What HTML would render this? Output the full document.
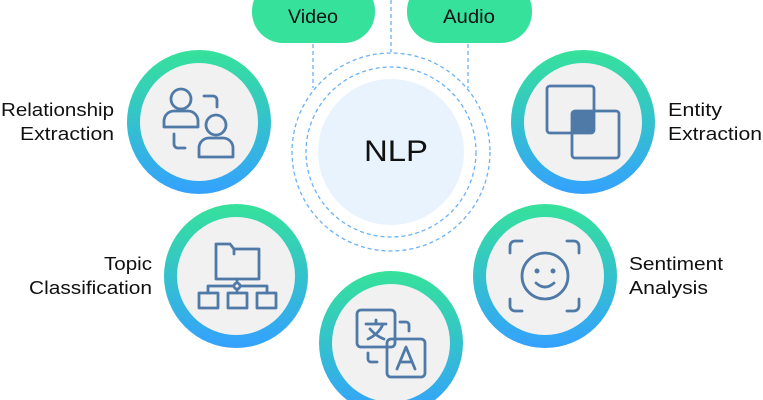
<!DOCTYPE html>
<html><head><meta charset="utf-8"><style>
html,body{margin:0;padding:0;background:#fff;}
svg{display:block;}
text{font-family:"Liberation Sans",sans-serif;}
</style></head><body>
<svg width="763" height="400" viewBox="0 0 763 400" xmlns="http://www.w3.org/2000/svg">
<defs>
<linearGradient id="g" x1="0" y1="0" x2="0" y2="1">
<stop offset="0" stop-color="#35e29a"/><stop offset="1" stop-color="#34a1fe"/>
</linearGradient>
</defs>
<rect x="252" y="-20" width="123" height="63" rx="31" fill="#36e19c"/>
<rect x="407" y="-20" width="125" height="63" rx="31" fill="#36e19c"/>
<text x="313" y="23" font-size="19" text-anchor="middle" fill="#111" textLength="50" lengthAdjust="spacingAndGlyphs">Video</text>
<text x="469" y="23" font-size="19" text-anchor="middle" fill="#111" textLength="52" lengthAdjust="spacingAndGlyphs">Audio</text>
<g stroke="#6ab2f5" stroke-width="1.3" stroke-dasharray="4,3" fill="none">
<line x1="313" y1="44" x2="313" y2="88"/>
<line x1="468" y1="44" x2="468" y2="88"/>
<line x1="391" y1="0" x2="391" y2="52"/>
<circle cx="391" cy="152" r="99"/>
<circle cx="391" cy="152" r="85"/>
</g>
<circle cx="391" cy="152" r="73" fill="#e8f3fd"/>
<text x="396" y="161" font-size="30" text-anchor="middle" fill="#111" textLength="64" lengthAdjust="spacingAndGlyphs">NLP</text>
<g>
<circle cx="199" cy="122" r="72" fill="url(#g)"/><circle cx="199" cy="122" r="59" fill="#f1f1f1"/>
<circle cx="583" cy="122" r="72" fill="url(#g)"/><circle cx="583" cy="122" r="59" fill="#f1f1f1"/>
<circle cx="236" cy="276" r="72" fill="url(#g)"/><circle cx="236" cy="276" r="59" fill="#f1f1f1"/>
<circle cx="545" cy="276" r="72" fill="url(#g)"/><circle cx="545" cy="276" r="59" fill="#f1f1f1"/>
<circle cx="391" cy="343" r="72" fill="url(#g)"/><circle cx="391" cy="343" r="59" fill="#f1f1f1"/>
</g>
<g stroke="#4f7aa8" stroke-width="2.8" fill="none" stroke-linecap="round" stroke-linejoin="round">
<circle cx="181" cy="99" r="10"/>
<path d="M164 127 v-6 a10 10 0 0 1 10 -10 h14 a10 10 0 0 1 10 10 v6 z"/>
<circle cx="216" cy="125" r="10"/>
<path d="M199 157 v-9 a10 10 0 0 1 10 -10 h14 a10 10 0 0 1 10 10 v9 z"/>
<path d="M204 96 h9 a4 4 0 0 1 4 4 v7"/>
<path d="M174 134 v10 a4 4 0 0 0 4 4 h7"/>
<rect x="547" y="86" width="47" height="47" rx="3"/>
<rect x="572" y="111" width="47" height="47" rx="3"/>
<path d="M216 244 h14 l4 5 h25 v30 h-43 z"/>
<line x1="234" y1="249" x2="234" y2="254"/>
<line x1="237" y1="279" x2="237" y2="283"/>
<circle cx="237" cy="286" r="3"/>
<path d="M208 286 h26 M240 286 h27 M208 286 v7 M237 289 v4 M267 286 v7"/>
<rect x="199" y="293" width="19" height="15"/>
<rect x="228" y="293" width="19" height="15"/>
<rect x="257" y="293" width="19" height="15"/>
<path d="M510 253 v-7 a5 5 0 0 1 5 -5 h7 M567 241 h7 a5 5 0 0 1 5 5 v7 M579 299 v7 a5 5 0 0 1 -5 5 h-7 M522 311 h-7 a5 5 0 0 1 -5 -5 v-7"/>
<circle cx="545" cy="276" r="23"/>
<path d="M536 283 q9 8 18 0"/>
<rect x="357" y="310" width="38" height="37" rx="4"/>
<rect x="387" y="339" width="38" height="38" rx="4"/>
<path d="M400 322 h6 a3 3 0 0 1 3 3 v6"/>
<path d="M368 353 v6 a3 3 0 0 0 3 3 h6"/>
<path d="M366 324 h20 M376 320 v4 M383 324 q-4 10 -15 15 M370 329 q6 7 14 10"/>
<path d="M397 369 l9 -22 l9 22 M400 362 h12"/>
</g>
<g fill="#4f7aa8">
<rect x="572" y="111" width="22" height="22" rx="2"/>
<circle cx="537" cy="271" r="2.5"/><circle cx="553" cy="271" r="2.5"/>
</g>
<g font-size="18" fill="#111">
<text x="114" y="116" text-anchor="end" textLength="113" lengthAdjust="spacingAndGlyphs">Relationship</text>
<text x="114" y="140" text-anchor="end" textLength="94" lengthAdjust="spacingAndGlyphs">Extraction</text>
<text x="152" y="270" text-anchor="end" textLength="48" lengthAdjust="spacingAndGlyphs">Topic</text>
<text x="152" y="294" text-anchor="end" textLength="123" lengthAdjust="spacingAndGlyphs">Classification</text>
<text x="668" y="116" textLength="54" lengthAdjust="spacingAndGlyphs">Entity</text>
<text x="668" y="140" textLength="94" lengthAdjust="spacingAndGlyphs">Extraction</text>
<text x="629" y="270" textLength="94" lengthAdjust="spacingAndGlyphs">Sentiment</text>
<text x="629" y="294" textLength="79" lengthAdjust="spacingAndGlyphs">Analysis</text>
</g>
</svg>
</body></html>
